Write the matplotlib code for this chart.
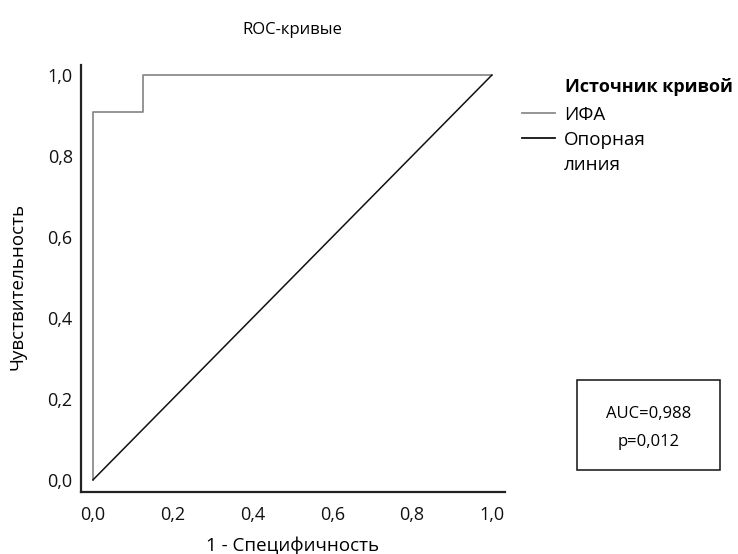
import matplotlib
matplotlib.use('Agg')
import matplotlib.pyplot as plt
from matplotlib.lines import Line2D
from matplotlib.patches import Rectangle

plt.rcParams['font.family'] = ['Open Sans', 'DejaVu Sans']

# ROC curve for ИФА (step curve)
fpr = [0.0, 0.0, 0.125, 0.125, 1.0]
tpr = [0.0, 0.909, 0.909, 1.0, 1.0]
ref_x = [0.0, 1.0]
ref_y = [0.0, 1.0]
ticks = [0.0, 0.2, 0.4, 0.6, 0.8, 1.0]
tick_labels = ['0,0', '0,2', '0,4', '0,6', '0,8', '1,0']
legend_labels = ['ИФА', 'Опорная', 'линия']
auc_text = 'AUC=0,988\np=0,012'

W, H = 738, 554
fig = plt.figure(figsize=(W / 100, H / 100), dpi=100)
ax = fig.add_axes([0.1098, 0.1119, 0.5745, 0.7708])

ax.plot(fpr, tpr, color='#8c8c8c', lw=1.3)
ax.plot(ref_x, ref_y, color='#111111', lw=1.1)

ax.set_xlim(-0.03, 1.033)
ax.set_ylim(-0.03, 1.025)
ax.set_xticks(ticks)
ax.set_xticklabels(tick_labels)
ax.set_yticks(ticks)
ax.set_yticklabels(tick_labels)
ax.tick_params(length=0, labelsize=13, pad=6, colors='#111111')
ax.tick_params(axis='x', pad=10)
for side in ('top', 'right'):
    ax.spines[side].set_visible(False)
for side in ('left', 'bottom'):
    ax.spines[side].set_linewidth(1.6)
    ax.spines[side].set_color('#222222')

# axis labels placed in figure pixels
fig.text(293 / W, 1 - 546 / H, '1 - Специфичность', ha='center', va='center',
         fontsize=13.5)
fig.text(18 / W, 1 - 286 / H, 'Чувствительность', ha='center', va='center',
         rotation=90, fontsize=13.5)
fig.text(292 / W, 1 - 30 / H, 'ROC-кривые', ha='center', va='center',
         fontsize=12)

# legend
fig.text(565 / W, 1 - 87 / H, 'Источник кривой', fontsize=13,
         fontweight='bold', ha='left', va='center')
handles = [Line2D([], [], color='#8c8c8c', lw=1.3),
           Line2D([], [], color='#111111', lw=1.3),
           Line2D([], [], color='none')]
fig.legend(handles, legend_labels, loc='upper left',
           bbox_to_anchor=(0.6965, 0.8224), frameon=False, fontsize=13.5,
           handlelength=1.8, handletextpad=0.45, labelspacing=0.38,
           borderaxespad=0)

# AUC box
fig.patches.append(Rectangle((577 / W, 1 - 470 / H), 143 / W, 90 / H,
                             transform=fig.transFigure, fill=False,
                             ec='#111111', lw=1.1))
fig.text(648.5 / W, 1 - 428 / H, auc_text, ha='center', va='center',
         fontsize=12, linespacing=1.95)

fig.savefig('out.png', dpi=100)
